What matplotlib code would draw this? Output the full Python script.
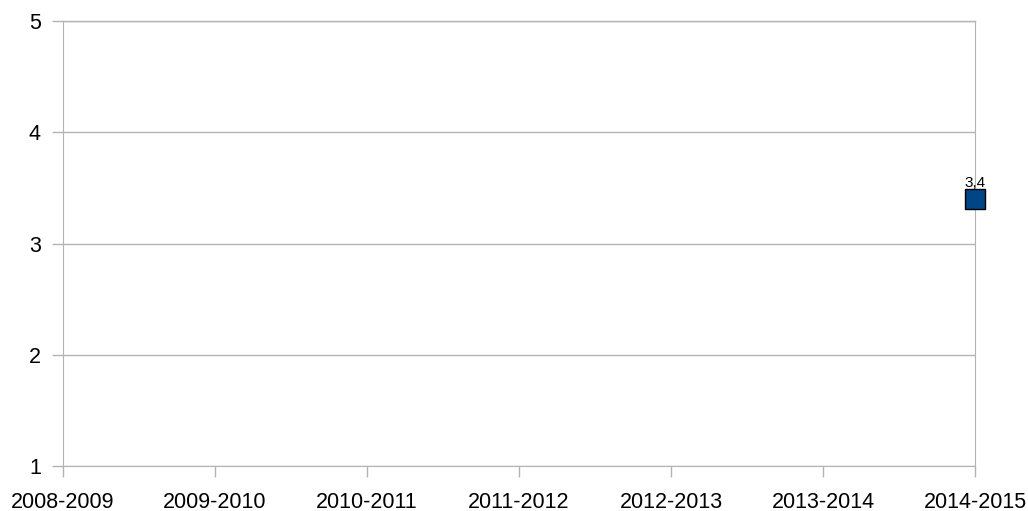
import matplotlib.pyplot as plt
import matplotlib

matplotlib.rcParams.update({
    'font.family': 'Liberation Sans',
    'font.size': 15.5,
})

seasons = ["2008-2009", "2009-2010", "2010-2011", "2011-2012",
           "2012-2013", "2013-2014", "2014-2015"]
values = [None, None, None, None, None, None, 3.4]
value_labels = ["", "", "", "", "", "", "3,4"]

fig = plt.figure(figsize=(10.28, 5.11), dpi=100)
ax = fig.add_axes([63 / 1028, 1 - 466 / 511, (975 - 63) / 1028, (466 - 21) / 511])

grid_color = '#b3b3b3'
x = list(range(len(seasons)))
for xi, v, lab in zip(x, values, value_labels):
    if v is None:
        continue
    ax.scatter([xi], [v], marker='s', s=190, color='#004586', edgecolor='black',
               linewidth=1, zorder=5, clip_on=False)
    ax.annotate(lab, (xi, v), xytext=(0, 9), textcoords='offset points',
                ha='center', va='baseline', fontsize=11)

ax.set_xlim(0, len(seasons) - 1)
ax.set_ylim(1, 5)
ax.set_xticks(x)
ax.set_xticklabels(seasons)
ax.set_yticks([1, 2, 3, 4, 5])
ax.yaxis.grid(True, color=grid_color, linewidth=1)
ax.set_axisbelow(True)

ax.spines['top'].set_visible(False)
for side in ['left', 'right', 'bottom']:
    ax.spines[side].set_color(grid_color)
ax.axhline(5, color=grid_color, linewidth=1, clip_on=False)
ax.tick_params(axis='both', colors=grid_color, labelcolor='black', length=8, width=1)
ax.tick_params(axis='x', pad=10.5)
ax.tick_params(axis='y', pad=8)

plt.savefig('out.png', dpi=100)
